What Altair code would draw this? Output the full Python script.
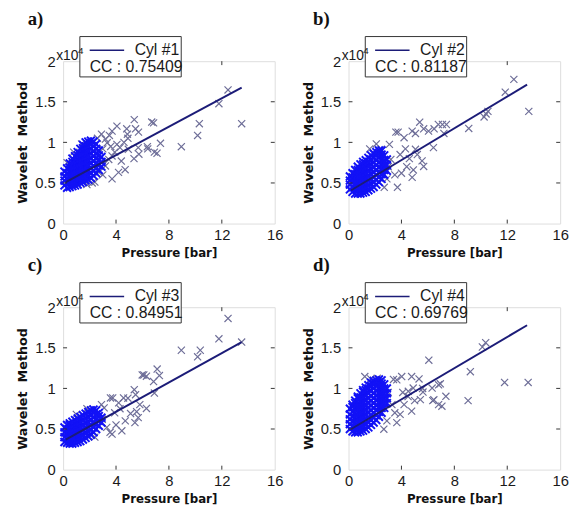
import altair as alt
import pandas as pd

# ---------------- data (y in units of 1e4) ----------------
X_TICKS = [0, 4, 8, 12, 16]
Y_TICKS = [0, 0.5, 1, 1.5, 2]
INNER_X_TICKS = [4, 8, 12]
INNER_Y_TICKS = [0.5, 1, 1.5]
PANEL_LABELS = ["a)", "b)", "c)", "d)"]
CYL_NAMES = ["Cyl #1", "Cyl #2", "Cyl #3", "Cyl #4"]
CC_VALUES = ["0.75409", "0.81187", "0.84951", "0.69769"]
LINE_X = [0.2, 13.5]
LINE_Y_A = [0.51, 1.675]
LINE_Y_B = [0.41, 1.71]
LINE_Y_C = [0.37, 1.57]
LINE_Y_D = [0.50, 1.778]

# dense (blue) cluster, column x positions and the y values in each column
COL_X = [0.1, 0.3, 0.5, 0.7, 0.9, 1.1, 1.3, 1.5, 1.7, 1.9, 2.1, 2.3, 2.5, 2.7, 2.9]
A_COL_Y = [
    [0.47, 0.53, 0.58, 0.64],
    [0.44, 0.50, 0.56, 0.62, 0.68],
    [0.45, 0.51, 0.57, 0.63, 0.69, 0.74],
    [0.46, 0.52, 0.58, 0.64, 0.70, 0.76, 0.80],
    [0.47, 0.53, 0.59, 0.65, 0.71, 0.77, 0.83],
    [0.48, 0.54, 0.60, 0.66, 0.72, 0.78, 0.84, 0.88],
    [0.50, 0.56, 0.62, 0.68, 0.74, 0.80, 0.86, 0.92],
    [0.51, 0.57, 0.63, 0.69, 0.75, 0.81, 0.87, 0.93, 0.97],
    [0.53, 0.59, 0.65, 0.71, 0.77, 0.83, 0.89, 0.95, 1.00],
    [0.54, 0.60, 0.66, 0.72, 0.78, 0.84, 0.90, 0.96, 1.01],
    [0.56, 0.62, 0.68, 0.74, 0.80, 0.86, 0.92, 0.98, 1.02],
    [0.59, 0.65, 0.71, 0.77, 0.83, 0.89, 0.95, 1.01],
    [0.62, 0.68, 0.74, 0.80, 0.86, 0.92, 0.98],
    [0.66, 0.72, 0.78, 0.84, 0.90],
    [0.70, 0.76, 0.82],
]
B_COL_Y = [
    [0.42, 0.48, 0.53, 0.58],
    [0.39, 0.45, 0.51, 0.57, 0.62],
    [0.37, 0.43, 0.49, 0.55, 0.61, 0.66],
    [0.37, 0.43, 0.49, 0.55, 0.61, 0.66, 0.70],
    [0.37, 0.43, 0.49, 0.55, 0.61, 0.67, 0.73],
    [0.38, 0.44, 0.50, 0.56, 0.62, 0.68, 0.73, 0.76],
    [0.39, 0.45, 0.51, 0.57, 0.63, 0.69, 0.74, 0.78],
    [0.41, 0.47, 0.53, 0.59, 0.65, 0.71, 0.76, 0.81],
    [0.43, 0.49, 0.55, 0.61, 0.67, 0.73, 0.79, 0.84],
    [0.45, 0.51, 0.57, 0.63, 0.69, 0.75, 0.81, 0.86],
    [0.48, 0.54, 0.60, 0.66, 0.72, 0.78, 0.84, 0.88],
    [0.51, 0.57, 0.63, 0.69, 0.75, 0.81, 0.87, 0.90],
    [0.55, 0.61, 0.67, 0.73, 0.79, 0.85, 0.90],
    [0.60, 0.66, 0.72, 0.78, 0.84],
    [0.65, 0.72, 0.79],
]
C_COL_Y = [
    [0.34, 0.40, 0.46, 0.52],
    [0.33, 0.39, 0.45, 0.50, 0.55],
    [0.32, 0.38, 0.44, 0.50, 0.55, 0.57],
    [0.32, 0.38, 0.44, 0.50, 0.55, 0.59],
    [0.33, 0.39, 0.45, 0.51, 0.56, 0.61],
    [0.34, 0.40, 0.46, 0.52, 0.58, 0.63],
    [0.35, 0.41, 0.47, 0.53, 0.59, 0.65],
    [0.37, 0.43, 0.49, 0.55, 0.61, 0.67],
    [0.39, 0.45, 0.51, 0.57, 0.63, 0.69],
    [0.41, 0.47, 0.53, 0.59, 0.65, 0.71],
    [0.43, 0.49, 0.55, 0.61, 0.67, 0.73],
    [0.46, 0.52, 0.58, 0.64, 0.70, 0.74],
    [0.50, 0.56, 0.62, 0.68, 0.73],
    [0.54, 0.60, 0.66, 0.70],
    [0.58, 0.64],
]
D_COL_Y = [
    [0.50, 0.56, 0.62, 0.68, 0.75],
    [0.47, 0.53, 0.59, 0.65, 0.71, 0.77, 0.80],
    [0.46, 0.52, 0.58, 0.64, 0.70, 0.76, 0.82, 0.85],
    [0.46, 0.52, 0.58, 0.64, 0.70, 0.76, 0.82, 0.88, 0.90],
    [0.47, 0.53, 0.59, 0.65, 0.71, 0.77, 0.83, 0.89, 0.94],
    [0.48, 0.54, 0.60, 0.66, 0.72, 0.78, 0.84, 0.90, 0.96, 0.98],
    [0.50, 0.56, 0.62, 0.68, 0.74, 0.80, 0.86, 0.92, 0.98, 1.01],
    [0.52, 0.58, 0.64, 0.70, 0.76, 0.82, 0.88, 0.94, 1.00, 1.04],
    [0.55, 0.61, 0.67, 0.73, 0.79, 0.85, 0.91, 0.97, 1.03, 1.07],
    [0.58, 0.64, 0.70, 0.76, 0.82, 0.88, 0.94, 1.00, 1.06, 1.09],
    [0.61, 0.67, 0.73, 0.79, 0.85, 0.91, 0.97, 1.03, 1.10],
    [0.65, 0.71, 0.77, 0.83, 0.89, 0.95, 1.01, 1.07, 1.11],
    [0.70, 0.76, 0.82, 0.88, 0.94, 1.00, 1.06, 1.10],
    [0.76, 0.82, 0.88, 0.94, 1.00, 1.05],
    [0.82, 0.88, 0.94, 1.00],
]

# sparse (grey) crosses: (pressure, wavelet)
A_SPARSE = [(12.47, 1.646), (11.78, 1.476), (13.5, 1.23), (10.3, 1.23), (10.17, 1.085),
            (8.94, 0.947), (6.84, 1.24), (6.7, 1.25), (5.38, 1.28), (7.36, 0.988), (7.1, 0.866),
            (6.9, 0.88), (6.37, 0.947), (6.4, 0.92), (5.73, 0.854), (5.68, 0.935), (5.36, 0.8),
            (4.86, 1.10), (4.81, 1.167), (5.48, 1.167), (5.7, 1.126), (4.07, 1.2), (3.7, 1.138),
            (3.5, 1.085), (4.9, 1.05), (4.69, 0.663), (3.7, 0.55), (4.19, 0.63), (4.4, 0.77),
            (3.2, 0.71), (2.7, 0.63), (2.4, 0.51), (3.33, 0.995), (2.9, 1.1), (3.2, 1.04),
            (4.07, 0.975), (4.3, 0.935), (4.93, 0.915), (3.7, 0.833), (3.45, 0.79), (2.6, 1.05),
            (3.0, 0.92), (3.6, 0.95), (2.2, 0.5), (3.0, 0.6), (1.8, 0.48), (3.9, 0.88),
            (4.6, 1.0), (0.3, 0.75), (0.8, 0.88), (1.4, 0.98)]
B_SPARSE = [(12.5, 1.776), (11.85, 1.618), (13.63, 1.382), (10.54, 1.382), (10.25, 1.313),
            (10.4, 1.35), (9.09, 1.171), (5.38, 1.248), (6.79, 1.22), (7.1, 1.22), (7.4, 1.22),
            (6.47, 1.167), (5.68, 1.167), (6.05, 1.138), (7.21, 1.11), (3.58, 1.126),
            (3.75, 1.126), (4.81, 1.138), (5.06, 1.11), (4.2, 1.057), (6.42, 0.935),
            (5.56, 0.772), (5.68, 0.703), (4.81, 0.569), (3.7, 0.447), (2.7, 0.447), (3.2, 0.79),
            (5.06, 0.915), (4.3, 0.92), (3.09, 0.975), (2.47, 0.915), (4.0, 0.62), (4.4, 0.7),
            (3.5, 0.6), (2.9, 0.55), (3.9, 0.85), (4.6, 0.8), (2.1, 0.98), (1.6, 0.92),
            (3.0, 0.7), (5.2, 0.85), (4.9, 0.66)]
C_SPARSE = [(12.47, 1.862), (11.78, 1.611), (13.5, 1.571), (8.94, 1.47), (10.37, 1.47),
            (10.17, 1.389), (6.3, 1.15), (6.1, 1.166), (5.98, 1.166), (7.11, 1.239),
            (7.28, 1.158), (6.84, 1.085), (6.9, 0.943), (5.38, 0.984), (5.48, 0.923),
            (4.57, 0.883), (4.9, 0.88), (3.58, 0.883), (3.75, 0.883), (4.2, 0.822), (6.3, 0.753),
            (5.56, 0.713), (5.68, 0.64), (5.43, 0.579), (3.7, 0.437), (3.55, 0.46), (4.44, 0.478),
            (2.96, 0.62), (5.8, 0.8), (4.7, 0.6), (4.0, 0.55), (3.3, 0.52), (2.4, 0.4),
            (3.1, 0.76), (3.9, 0.7), (4.3, 0.75), (2.9, 0.8), (1.0, 0.68), (1.8, 0.75), (5.1, 0.69)]
D_SPARSE = [(10.37, 1.563), (10.12, 1.51), (6.07, 1.348), (9.21, 1.206), (11.8, 1.073),
            (13.58, 1.073), (9.04, 0.85), (6.37, 0.85), (6.45, 0.86), (6.81, 1.045),
            (6.94, 1.057), (7.36, 0.903), (7.06, 0.781), (6.81, 0.8), (6.32, 1.004),
            (5.63, 0.955), (5.43, 0.862), (4.89, 1.004), (4.77, 1.146), (5.33, 1.117),
            (4.02, 1.146), (3.65, 1.105), (3.4, 1.11), (2.17, 1.125), (1.9, 1.1), (4.77, 0.72),
            (3.65, 0.579), (2.67, 0.498), (3.9, 0.68), (5.6, 1.0), (4.52, 0.964), (3.28, 0.8),
            (3.0, 0.95), (1.23, 1.146), (1.68, 1.117), (2.3, 1.085), (4.2, 0.8), (4.5, 0.9),
            (3.5, 0.7), (2.9, 0.6), (5.0, 0.85), (4.1, 0.95)]

# ---------------- styling ----------------
W, H = 215, 165
BLUE = "#1212f6"
GREY = "#6e6e98"
NAVY = "#1c1c78"
FRAME = "#333333"
CROSS = "M-1,-1L1,1M-1,1L1,-1"
SANS = "Liberation Sans"
BOLD = "DejaVu Sans"

XS = alt.Scale(domain=[0, 16], nice=False, zero=False)
YS = alt.Scale(domain=[0, 2], nice=False, zero=False)
XAX = alt.Axis(values=X_TICKS, title="Pressure [bar]", format="~g", ticks=False,
               domain=False, grid=False, labelFlush=False, labelOverlap=False,
               labelFont=SANS, labelFontSize=15, labelColor="#1a1a1a",
               labelPadding=4, titlePadding=5, titleFontSize=12,
               titleFont=BOLD, titleFontWeight="bold", titleColor="#111111")
YAX = alt.Axis(values=Y_TICKS, title="Wavelet\u00a0 Method", format="~g", ticks=False,
               domain=False, grid=False, labelFlush=False, labelOverlap=False,
               labelFont=SANS, labelFontSize=15, labelColor="#1a1a1a",
               labelPadding=8, titlePadding=5, titleFontSize=13,
               titleFont=BOLD, titleFontWeight="bold", titleColor="#111111")


def one_row():
    return pd.DataFrame({"k": [0]})


def X(field="p"):
    return alt.X(f"{field}:Q", scale=XS, axis=XAX)


def Y(field="w"):
    return alt.Y(f"{field}:Q", scale=YS, axis=YAX)


def panel(idx, col_y, sparse, line_y):
    cluster = pd.DataFrame([(x, y) for x, ys in zip(COL_X, col_y) for y in ys], columns=["p", "w"])
    sp = pd.DataFrame(sparse, columns=["p", "w"])
    ln = pd.DataFrame({"p": LINE_X, "w": line_y})

    grey = alt.Chart(sp).mark_point(shape=CROSS, size=52, filled=False, strokeWidth=1.2,
                                    color=GREY, opacity=1).encode(x=X(), y=Y())
    blue = alt.Chart(cluster).mark_point(shape=CROSS, size=64, filled=False, strokeWidth=2.0,
                                         color=BLUE, opacity=1).encode(x=X(), y=Y())
    line = alt.Chart(ln).mark_line(color=NAVY, strokeWidth=2).encode(x=X(), y=Y())

    yt = pd.DataFrame({"w": INNER_Y_TICKS})
    xt = pd.DataFrame({"p": INNER_X_TICKS})
    tl = alt.Chart(yt).mark_rule(color=FRAME).encode(x=alt.value(0), x2=alt.value(4), y=Y())
    tr = alt.Chart(yt).mark_rule(color=FRAME).encode(x=alt.value(W - 4), x2=alt.value(W), y=Y())
    tb = alt.Chart(xt).mark_rule(color=FRAME).encode(y=alt.value(H - 4), y2=alt.value(H), x=X())
    tt = alt.Chart(xt).mark_rule(color=FRAME).encode(y=alt.value(0), y2=alt.value(4), x=X())

    box = alt.Chart(one_row()).mark_rect(fill="white", stroke=FRAME, strokeWidth=1).encode(
        x=alt.value(17), x2=alt.value(120), y=alt.value(-25), y2=alt.value(16))
    leg_line = alt.Chart(one_row()).mark_rule(color=NAVY, strokeWidth=1.5).encode(
        x=alt.value(27), x2=alt.value(62), y=alt.value(-11))
    leg_name = alt.Chart(one_row()).mark_text(
        text=CYL_NAMES[idx], align="right", baseline="middle", font=SANS, fontSize=16,
        color="#1a1a1a").encode(x=alt.value(118), y=alt.value(-11))
    leg_cc = alt.Chart(one_row()).mark_text(
        text="CC : " + CC_VALUES[idx], align="left", baseline="middle", font=SANS, fontSize=16,
        color="#1a1a1a").encode(x=alt.value(27), y=alt.value(6))
    mult = alt.Chart(one_row()).mark_text(
        text="x10", align="left", baseline="alphabetic", font=SANS, fontSize=14,
        color="#1a1a1a").encode(x=alt.value(-7), y=alt.value(-1))
    expo = alt.Chart(one_row()).mark_text(
        text="4", align="left", baseline="alphabetic", font=SANS, fontSize=10,
        color="#1a1a1a").encode(x=alt.value(15), y=alt.value(-7))
    lab = alt.Chart(one_row()).mark_text(
        text=PANEL_LABELS[idx], align="left", baseline="top", font="Liberation Serif",
        fontSize=19, fontWeight="bold", color="#111111").encode(
        x=alt.value(-36), y=alt.value(-52))

    return alt.layer(grey, blue, line, tl, tr, tb, tt, box, leg_line, leg_name, leg_cc,
                     mult, expo, lab).properties(width=W, height=H)


pa = panel(0, A_COL_Y, A_SPARSE, LINE_Y_A)
pb = panel(1, B_COL_Y, B_SPARSE, LINE_Y_B)
pc = panel(2, C_COL_Y, C_SPARSE, LINE_Y_C)
pd_ = panel(3, D_COL_Y, D_SPARSE, LINE_Y_D)

chart = alt.concat(pa, pb, pc, pd_, columns=2, spacing={"row": 85, "column": 75},
                   bounds="flush").properties(
    padding={"left": 8, "top": -3, "right": 0, "bottom": 0}
).configure_view(stroke=FRAME, strokeWidth=1).configure(background="white")

chart.save("out.html", embed_options={"renderer": "svg", "actions": False})
